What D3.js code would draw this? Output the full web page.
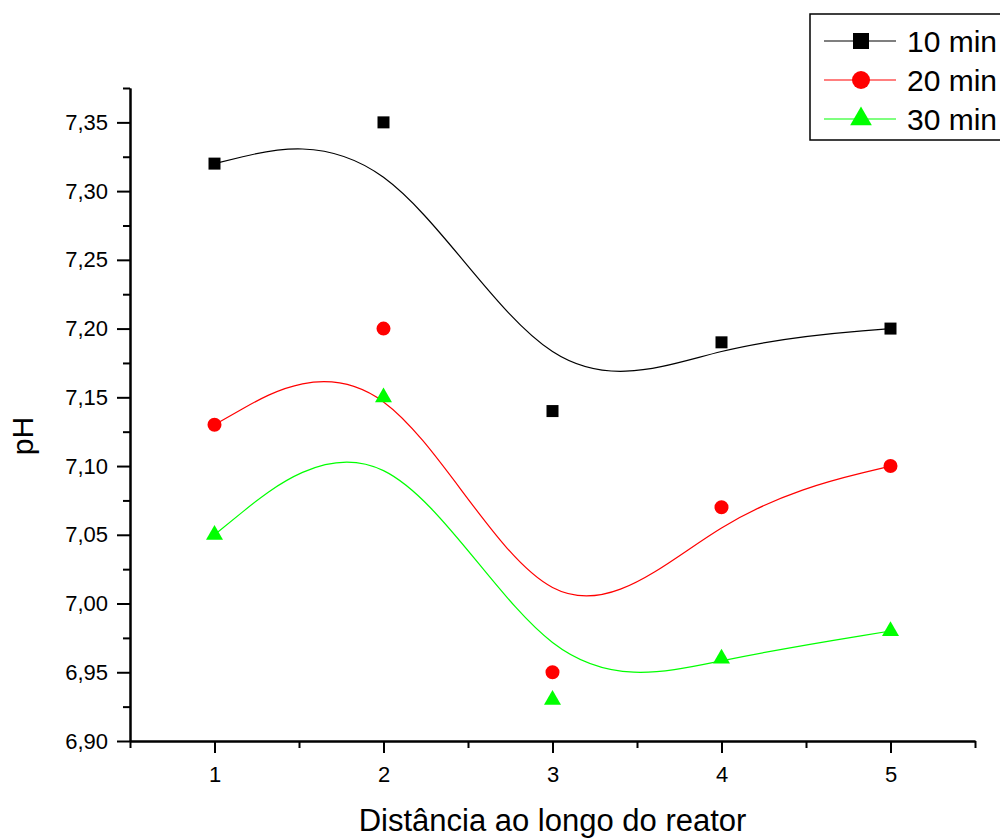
<!DOCTYPE html>
<html>
<head>
<meta charset="utf-8">
<script src="https://cdn.jsdelivr.net/npm/d3@7"></script>
<style>
  body { margin: 0; background: #fff; }
  text { font-family: "Liberation Sans", Arial, sans-serif; }
</style>
</head>
<body>
<div id="container"></div>
<script>
/* CONSTANTS AND GLOBALS */
const width = 1000,
  height = 839,
  margin = { top: 88, bottom: 98, left: 130, right: 25 };

// data
const distances = [1, 2, 3, 4, 5];
const ph10 = [7.32, 7.35, 7.14, 7.19, 7.20];
const ph20 = [7.13, 7.20, 6.95, 7.07, 7.10];
const ph30 = [7.05, 7.15, 6.93, 6.96, 6.98];
const seriesNames = ["10 min", "20 min", "30 min"];
const seriesColors = ["#000000", "#ff0000", "#00ff00"];
const yTicks = [6.90, 6.95, 7.00, 7.05, 7.10, 7.15, 7.20, 7.25, 7.30, 7.35];
const yMinorTicks = [6.925, 6.975, 7.025, 7.075, 7.125, 7.175, 7.225, 7.275, 7.325, 7.375];
const xTicks = [1, 2, 3, 4, 5];
const xMinorTicks = [0.5, 1.5, 2.5, 3.5, 4.5, 5.5];

const series = [ph10, ph20, ph30];
const symbols = [d3.symbolSquare, d3.symbolCircle, d3.symbolTriangle];
const symbolSizes = [144, 154, 125];
const legendSizes = [256, 254, 204];

/* SCALES */
const xScale = d3.scaleLinear()
  .domain([0.5, 5.5])
  .range([margin.left, width - margin.right]);

const yScale = d3.scaleLinear()
  .domain([6.9, 7.375])
  .range([height - margin.bottom, margin.top]);

const svg = d3.select("#container")
  .append("svg")
  .attr("width", width)
  .attr("height", height);

const comma = d => d3.format(".2f")(d).replace(".", ",");

// y axis
svg.append("g")
  .attr("transform", `translate(${margin.left},0)`)
  .call(d3.axisLeft(yScale).tickValues(yMinorTicks).tickSize(7).tickFormat("").tickSizeOuter(0))
  .call(g => g.selectAll("line, path").attr("stroke-width", 2));

svg.append("g")
  .attr("transform", `translate(${margin.left},0)`)
  .call(d3.axisLeft(yScale).tickValues(yTicks).tickSize(13).tickPadding(9).tickFormat(comma).tickSizeOuter(0))
  .call(g => g.selectAll("line, path").attr("stroke-width", 2))
  .call(g => g.selectAll("text").attr("font-size", 22).attr("font-family", null));

// x axis
svg.append("g")
  .attr("transform", `translate(0,${height - margin.bottom})`)
  .call(d3.axisBottom(xScale).tickValues(xMinorTicks).tickSize(7).tickFormat("").tickSizeOuter(0))
  .call(g => g.selectAll("line, path").attr("stroke-width", 2));

svg.append("g")
  .attr("transform", `translate(0,${height - margin.bottom})`)
  .call(d3.axisBottom(xScale).tickValues(xTicks).tickSize(12).tickPadding(13).tickFormat(d3.format("d")).tickSizeOuter(0))
  .call(g => g.selectAll("line, path").attr("stroke-width", 2))
  .call(g => g.selectAll("text").attr("font-size", 22).attr("font-family", null));

// axis titles
svg.append("text")
  .attr("x", (xScale.range()[0] + xScale.range()[1]) / 2)
  .attr("y", 831)
  .attr("text-anchor", "middle")
  .attr("font-size", 31)
  .text("Distância ao longo do reator");

svg.append("text")
  .attr("transform", "translate(33,436) rotate(-90)")
  .attr("text-anchor", "middle")
  .attr("font-size", 30)
  .text("pH");

/* CURVES AND POINTS */
const line = d3.line()
  .x((d, i) => xScale(distances[i]))
  .y(d => yScale(d))
  .curve(d3.curveBasis);

series.forEach((values, k) => {
  svg.append("path")
    .datum(values)
    .attr("d", line)
    .attr("fill", "none")
    .attr("stroke", seriesColors[k])
    .attr("stroke-width", 1.2);

  svg.selectAll(`path.pt${k}`)
    .data(values)
    .join("path")
    .attr("class", `pt${k}`)
    .attr("transform", (d, i) => `translate(${xScale(distances[i])},${yScale(d)})`)
    .attr("d", d3.symbol().type(symbols[k]).size(symbolSizes[k]))
    .attr("fill", seriesColors[k]);
});

/* LEGEND */
const legend = svg.append("g");
legend.append("rect")
  .attr("x", 810)
  .attr("y", 14)
  .attr("width", 220)
  .attr("height", 126)
  .attr("fill", "#fff")
  .attr("stroke", "#000")
  .attr("stroke-width", 1.5);

const rows = legend.selectAll("g.row")
  .data(seriesNames)
  .join("g")
  .attr("class", "row")
  .attr("transform", (d, i) => `translate(0,${41 + i * 39})`);

rows.append("line")
  .attr("x1", 824).attr("x2", 896)
  .attr("stroke", (d, i) => seriesColors[i])
  .attr("stroke-width", 1.2);

rows.append("path")
  .attr("transform", "translate(861,0)")
  .attr("d", (d, i) => d3.symbol().type(symbols[i]).size(legendSizes[i])())
  .attr("fill", (d, i) => seriesColors[i]);

rows.append("text")
  .attr("x", 907)
  .attr("dy", "0.36em")
  .attr("font-size", 30)
  .text(d => d);
</script>
</body>
</html>
